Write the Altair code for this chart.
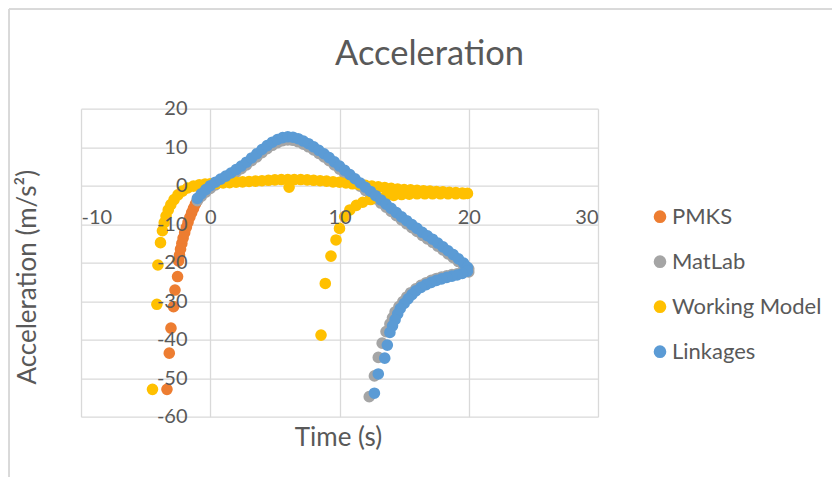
import altair as alt
import pandas as pd

# ---- data ----
series_names = ["PMKS", "MatLab", "Working Model", "Linkages"]
series_colors = ["#ED7D31", "#A5A5A5", "#FFC000", "#5B9BD5"]

pmks_x = [-3.35, -3.17, -3.04, -2.84, -2.73, -2.53, -2.45, -2.38, -2.3, -2.2, -2.1,
          -1.98, -1.85, -1.72, -1.58, -1.44, -1.3, -1.15, -1.0]
pmks_y = [-52.9, -43.5, -37.0, -31.4, -27.1, -23.6, -19.5, -18.0, -16.5, -15.0, -13.6,
          -12.2, -10.8, -9.5, -8.2, -7.0, -5.9, -4.8, -3.8]

matlab_x = [-1.0, -0.7, -0.35, 0.0, 0.4, 0.8, 1.2, 1.6, 2.0, 2.4, 2.8, 3.2, 3.6, 4.0, 4.4,
            4.8, 5.2, 5.6, 6.0, 6.4, 6.8, 7.2, 7.6, 8.0, 8.4, 8.8, 9.2, 9.6, 10.0, 10.4,
            10.8, 11.2, 11.6, 12.0, 12.4, 12.8, 13.2, 13.6, 14.0, 14.4, 14.8, 15.2, 15.6,
            16.0, 16.4, 16.8, 17.2, 17.6, 18.0, 18.4, 18.8, 19.2, 19.6, 20.0, 20.0, 19.5,
            19.1, 18.7, 18.3, 17.9, 17.5, 17.1, 16.7, 16.3, 15.9, 15.5, 15.2, 14.9, 14.6,
            14.3, 14.1, 13.9, 13.6, 13.3, 13.0, 12.7, 12.3]
matlab_y = [-3.9, -2.8, -1.7, -0.7, 0.2, 1.0, 1.8, 2.6, 3.5, 4.4, 5.4, 6.5, 7.5, 8.6, 9.6,
            10.5, 11.2, 11.7, 11.9, 11.8, 11.4, 10.8, 10.1, 9.3, 8.4, 7.5, 6.5, 5.4, 4.3,
            3.2, 2.1, 1.0, -0.1, -1.2, -2.3, -3.4, -4.5, -5.6, -6.7, -7.8, -8.9, -9.9,
            -10.9, -11.9, -12.9, -13.8, -14.7, -15.7, -16.7, -17.7, -18.7, -19.7, -20.7,
            -21.6, -22.4, -22.6, -22.9, -23.1, -23.4, -23.7, -24.1, -24.6, -25.2, -25.9,
            -26.8, -27.8, -28.9, -30.1, -31.4, -32.8, -34.3, -35.9, -37.9, -40.9, -44.6,
            -49.4, -54.8]

wm_x = [-4.47, -4.13, -4.05, -3.85, -3.7, -3.56, -3.42, -3.25, -3.05, -2.8, -2.5, -2.15,
        -1.75, -1.3, -0.85, -0.4, 0.0, 0.5, 1.0, 1.5, 2.0, 2.5, 3.0, 3.5, 4.0, 4.5, 5.0,
        5.5, 6.0, 6.5, 7.0, 7.5, 8.0, 8.5, 9.0, 9.5, 10.0, 10.5, 11.0, 11.5, 12.0, 12.5,
        13.0, 13.5, 14.0, 14.5, 15.0, 15.5, 16.0, 16.5, 17.0, 17.5, 18.0, 18.5, 19.0,
        19.5, 19.9,
        8.57, 8.9, 9.34, 9.73, 10.0, 10.4, 10.8, 11.3, 11.8, 12.4, 13.0, 13.6, 14.2, 14.8,
        15.4, 16.0, 16.6, 17.2, 17.8, 18.4, 19.0, 19.6,
        6.1]
wm_y = [-52.9, -30.8, -20.6, -14.8, -11.7, -9.6, -7.9, -6.3, -4.9, -3.6, -2.4, -1.4,
        -0.6, -0.1, 0.2, 0.4, 0.5, 0.6, 0.7, 0.8, 0.9, 1.0, 1.1, 1.2, 1.3, 1.4, 1.5,
        1.6, 1.6, 1.6, 1.6, 1.5, 1.4, 1.3, 1.2, 1.0, 0.9, 0.7, 0.5, 0.3, 0.1, -0.1,
        -0.3, -0.5, -0.7, -0.9, -1.0, -1.1, -1.2, -1.3, -1.4, -1.5, -1.6, -1.7, -1.8,
        -1.9, -2.0,
        -38.8, -25.4, -18.3, -14.1, -11.1, -8.0, -6.3, -5.1, -4.3, -3.6, -3.1, -2.7, -2.5,
        -2.3, -2.2, -2.1, -2.1, -2.1, -2.1, -2.1, -2.1, -2.1,
        -0.4]

link_x = [-1.0, -0.7, -0.35, 0.0, 0.4, 0.8, 1.2, 1.6, 2.0, 2.4, 2.8, 3.2, 3.6, 4.0, 4.4,
          4.8, 5.2, 5.6, 6.0, 6.4, 6.8, 7.2, 7.6, 8.0, 8.4, 8.8, 9.2, 9.6, 10.0, 10.4,
          10.8, 11.2, 11.6, 12.0, 12.4, 12.8, 13.2, 13.6, 14.0, 14.4, 14.8, 15.2, 15.6,
          16.0, 16.4, 16.8, 17.2, 17.6, 18.0, 18.4, 18.8, 19.2, 19.6, 19.9, 19.9, 19.5,
          19.1, 18.7, 18.3, 17.9, 17.5, 17.1, 16.7, 16.3, 15.9, 15.6, 15.3, 15.0, 14.7,
          14.5, 14.3, 14.1, 13.9, 13.7, 13.5, 13.0, 12.7]
link_y = [-3.3, -2.1, -1.0, 0.0, 0.9, 1.7, 2.5, 3.3, 4.2, 5.1, 6.1, 7.2, 8.3, 9.4, 10.4,
          11.3, 12.0, 12.5, 12.7, 12.6, 12.2, 11.6, 10.9, 10.1, 9.2, 8.3, 7.3, 6.2, 5.1,
          4.0, 2.9, 1.8, 0.7, -0.4, -1.5, -2.6, -3.7, -4.8, -5.9, -7.0, -8.1, -9.1,
          -10.1, -11.1, -12.1, -13.0, -13.9, -14.9, -15.9, -16.9, -17.9, -19.0, -20.1,
          -21.2, -22.2, -22.8, -23.2, -23.5, -23.8, -24.2, -24.6, -25.1, -25.7, -26.4,
          -27.3, -28.3, -29.4, -30.6, -31.9, -33.3, -34.8, -36.4, -38.1, -41.4, -44.8,
          -48.9, -53.9]

x_ticks = [-10, 0, 10, 20, 30]
y_ticks = [-60, -50, -40, -30, -20, -10, 0, 10, 20]

rows = []
for name, xs, ys in [("PMKS", pmks_x, pmks_y), ("MatLab", matlab_x, matlab_y),
                     ("Working Model", wm_x, wm_y), ("Linkages", link_x, link_y)]:
    for a, b in zip(xs, ys):
        rows.append({"t": a, "acc": b, "series": name})
df = pd.DataFrame(rows)

FONT = "Lato"
TXT = "#595959"
GRID = "#D9D9D9"

xscale = alt.Scale(domain=[-10, 30], nice=False, zero=False)
yscale = alt.Scale(domain=[-60, 20], nice=False, zero=False)

# Layer with the data points and the gridlines (drawn behind the points)
points = alt.Chart(df).mark_circle(size=135, opacity=1).encode(
    x=alt.X("t:Q", scale=xscale,
            axis=alt.Axis(values=x_ticks, grid=True, gridColor=GRID, gridWidth=1.3,
                          labels=False, ticks=False, domain=False, title=None)),
    y=alt.Y("acc:Q", scale=yscale,
            axis=alt.Axis(values=y_ticks, grid=True, gridColor=GRID, gridWidth=1.3,
                          labels=False, ticks=False, domain=False, title=None)),
    color=alt.Color("series:N",
                    scale=alt.Scale(domain=series_names, range=series_colors),
                    legend=alt.Legend(title=None, orient="none", legendX=568, legendY=97,
                                      symbolType="circle", symbolSize=160,
                                      labelFont=FONT, labelFontSize=22, labelColor=TXT,
                                      labelOffset=1, rowPadding=23, padding=0)),
    order=alt.Order("ord:Q"),
).transform_window(ord="row_number()")

# Invisible layer carrying the axis labels, drawn above the points and crossing at 0
labels = alt.Chart(df).mark_circle(opacity=0).encode(
    x=alt.X("t:Q", scale=xscale,
            axis=alt.Axis(values=x_ticks, grid=False, ticks=False, domain=False,
                          orient="bottom", offset=-231, labelPadding=22,
                          labelExpr="'' + datum.value",
                          labelFont=FONT, labelFontSize=20, labelColor=TXT, zindex=1,
                          title="Time (s)", titleFont=FONT, titleFontSize=26,
                          titleFontWeight="normal", titleColor=TXT,
                          titleX=257, titleY=252, titleBaseline="middle",
                          titleAlign="center")),
    y=alt.Y("acc:Q", scale=yscale,
            axis=alt.Axis(values=y_ticks, grid=False, ticks=False, domain=False,
                          orient="left", offset=-130, labelPadding=24,
                          labelExpr="'' + datum.value",
                          labelFont=FONT, labelFontSize=20, labelColor=TXT, zindex=1,
                          title="Acceleration (m/s²)", titleFont=FONT, titleFontSize=26,
                          titleFontWeight="normal", titleColor=TXT,
                          titleX=-184, titleY=168, titleAngle=-90,
                          titleBaseline="middle", titleAlign="center")),
)

border_top = alt.Chart(df).mark_rule(color=GRID, strokeWidth=1.3).encode(
    x=alt.value(-72), x2=alt.value(780), y=alt.value(-99.5))
border_left = alt.Chart(df).mark_rule(color=GRID, strokeWidth=1.3).encode(
    x=alt.value(-72), y=alt.value(-99.5), y2=alt.value(380))

chart = alt.layer(border_top, border_left, points, labels).resolve_axis(
    x="independent", y="independent"
).properties(
    width=517, height=308,
    autosize=alt.AutoSizeParams(type="none"),
    padding={"left": 73, "top": 100.7, "right": 234, "bottom": 60},
    title=alt.TitleParams("Acceleration", font=FONT, fontSize=34.5, fontWeight="normal",
                          color=TXT, anchor="middle", dx=90, dy=35, offset=-56,
                          baseline="alphabetic"),
).configure_view(stroke=None)

chart.save("out.html", embed_options={"renderer": "svg", "actions": False})
